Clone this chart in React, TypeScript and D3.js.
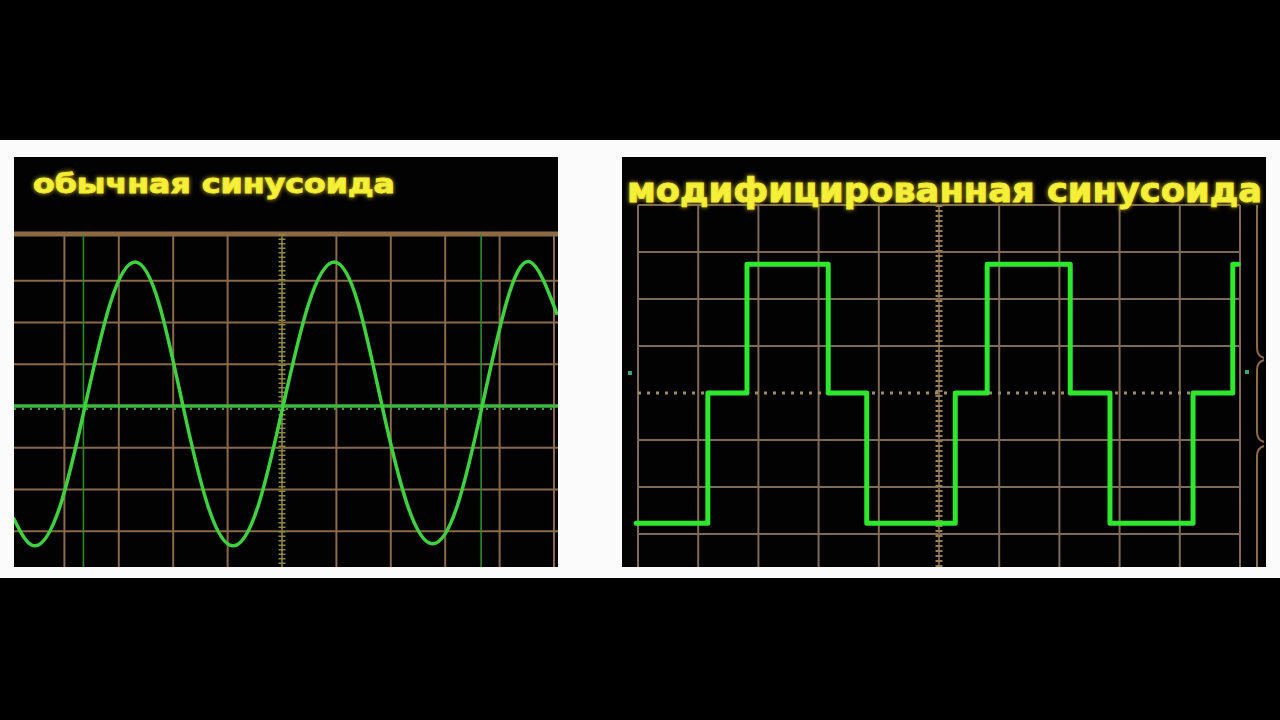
import * as d3 from 'd3';

// ---- data (grid divisions) ----
// normal sine: read points (x div, y div) at edges, extremes, mid-slopes and zero crossings
const sineX = [0.07, 0.46, 0.92, 1.38, 1.84, 2.3, 2.74, 3.18, 3.64, 4.1, 4.56, 5.02, 5.49, 5.96, 6.4, 6.84, 7.3, 7.76, 8.22, 8.68, 9.12, 9.56, 10.05];
const sineY = [-2.7, -3.35, -2.4, 0, 2.45, 3.45, 2.45, 0, -2.4, -3.35, -2.4, 0, 2.45, 3.45, 2.45, 0, -2.35, -3.3, -2.4, 0, 2.45, 3.45, 2.22];

// modified sine: step transitions (x div) and the level held after each
const stepX = [-0.03, 1.16, 1.81, 3.16, 3.8, 5.27, 5.8, 7.18, 7.84, 9.22, 9.88, 9.97];
const stepLevel = [-2.77, 0, 2.74, 0, -2.77, 0, 2.74, 0, -2.77, 0, 2.74, 2.74];

// cursor lines on the left scope (x div)
const cursorX = [1.35, 8.66];

const divsX = d3.range(0, 11);
const divsY = d3.range(-4, 5);

const titleLeft = 'обычная синусоида';
const titleRight = 'модифицированная синусоида';

const GRID = '#8a6a4a';
const GRID2 = '#7e6a56';

function Title({ x, y, size, len, text }: { x: number; y: number; size: number; len: number; text: string }) {
  return (
    <g fontFamily="'DejaVu Sans', sans-serif" fontWeight="bold" fontSize={size}>
      <text
        x={x}
        y={y}
        textLength={len}
        lengthAdjust="spacingAndGlyphs"
        fill="#c9b400"
        stroke="#b8a200"
        strokeWidth={2}
        filter="url(#glow)"
        opacity={0.85}
      >
        {text}
      </text>
      <text
        x={x}
        y={y}
        textLength={len}
        lengthAdjust="spacingAndGlyphs"
        fill="#f4f03a"
        stroke="#f0ea30"
        strokeWidth={0.9}
      >
        {text}
      </text>
    </g>
  );
}

function LeftScope() {
  const x = d3.scaleLinear().domain([0, 10]).range([10, 554]);
  const y = d3.scaleLinear().domain([-4, 4]).range([573, 239]);
  const top = 234;
  const bottom = 567;

  const pts = sineX.map((v, i) => [x(v), y(sineY[i])] as [number, number]);
  const line = d3.line().curve(d3.curveNatural)(pts) || '';

  return (
    <g>
      <rect x={14} y={157} width={544} height={410} fill="#020202" />
      <g clipPath="url(#clipL)">
        {divsX.map((d) =>
          d === 5 ? null : (
            <line key={'v' + d} x1={x(d)} x2={x(d)} y1={top} y2={bottom} stroke={GRID} strokeWidth={2} />
          )
        )}
        {divsY.map((d) =>
          d === 0 || d === 4 ? null : (
            <line key={'h' + d} x1={14} x2={558} y1={y(d)} y2={y(d)} stroke={GRID} strokeWidth={2} />
          )
        )}
        <line x1={14} x2={558} y1={top} y2={top} stroke="#8e6a44" strokeWidth={5} />
        {/* center vertical axis with ticks */}
        <line x1={x(5)} x2={x(5)} y1={top} y2={bottom} stroke="#6f6a30" strokeWidth={2} />
        <line x1={x(5)} x2={x(5)} y1={top} y2={bottom} stroke="#8f8a3a" strokeWidth={7} strokeDasharray="1.5 3" />
        {cursorX.map((c) => (
          <line key={'c' + c} x1={x(c)} x2={x(c)} y1={top} y2={bottom} stroke="#2c8a2c" strokeWidth={1.6} />
        ))}
        {/* baseline trace */}
        <line x1={14} x2={558} y1={y(0)} y2={y(0)} stroke="#3fb83f" strokeWidth={3.5} />
        <line x1={14} x2={558} y1={y(0) + 3} y2={y(0) + 3} stroke="#3a9a3a" strokeWidth={2} strokeDasharray="2 6" />
        <path d={line} fill="none" stroke="#3ed23e" strokeWidth={3.5} strokeLinecap="round" />
      </g>
      <Title x={33} y={193} size={27} len={362} text={titleLeft} />
    </g>
  );
}

function RightScope() {
  const x = d3.scaleLinear().domain([0, 10]).range([638, 1240]);
  const y = d3.scaleLinear().domain([-4, 4]).range([581, 205]);
  const top = 205;
  const bottom = 567;

  const pts = stepX.map((v, i) => [x(v), y(stepLevel[i])] as [number, number]);
  const line = d3.line().curve(d3.curveStepAfter)(pts) || '';

  return (
    <g>
      <rect x={622} y={157} width={644} height={410} fill="#020202" />
      <g clipPath="url(#clipR)">
        {divsX.map((d) =>
          d === 5 ? null : (
            <line key={'v' + d} x1={x(d)} x2={x(d)} y1={top} y2={bottom} stroke={GRID2} strokeWidth={2} />
          )
        )}
        {divsY.map((d) =>
          d === 0 ? null : (
            <line key={'h' + d} x1={x(0)} x2={x(10)} y1={y(d)} y2={y(d)} stroke={GRID2} strokeWidth={2} />
          )
        )}
        <line x1={x(0)} x2={x(10)} y1={y(0)} y2={y(0)} stroke="#a08a6a" strokeWidth={3} strokeDasharray="3 6" />
        <line x1={x(5)} x2={x(5)} y1={top} y2={bottom} stroke="#6f5e40" strokeWidth={2} />
        <line x1={x(5)} x2={x(5)} y1={top} y2={bottom} stroke="#9a7e50" strokeWidth={7} strokeDasharray="2 3" />
        <path
          d="M1257,205 V348 Q1257,356 1264,358 M1264,360 Q1257,362 1257,370 V432 Q1257,440 1264,442 M1264,446 Q1257,448 1257,456 V567"
          fill="none"
          stroke="#8c6a48"
          strokeWidth={2}
        />
        <rect x={628} y={371} width={4} height={4} fill="#3aa08a" />
        <rect x={1245} y={370} width={4} height={4} fill="#3aa08a" />
        <path d={line} fill="none" stroke="#2ee82e" strokeWidth={5} strokeLinejoin="round" strokeLinecap="round" />
      </g>
      <Title x={627} y={202} size={34} len={635} text={titleRight} />
    </g>
  );
}

export default function App() {
  return (
    <div style={{ position: 'fixed', left: 0, top: 0 }}>
      <svg width={1280} height={720} style={{ display: 'block' }}>
        <defs>
          <filter id="glow" x="-10%" y="-50%" width="120%" height="200%">
            <feGaussianBlur stdDeviation="2" />
          </filter>
          <clipPath id="clipL">
            <rect x={14} y={157} width={544} height={410} />
          </clipPath>
          <clipPath id="clipR">
            <rect x={622} y={157} width={644} height={410} />
          </clipPath>
        </defs>
        <rect width={1280} height={720} fill="#000" />
        <rect x={0} y={140} width={1280} height={438} fill="#fbfbfb" />
        <LeftScope />
        <RightScope />
      </svg>
    </div>
  );
}
